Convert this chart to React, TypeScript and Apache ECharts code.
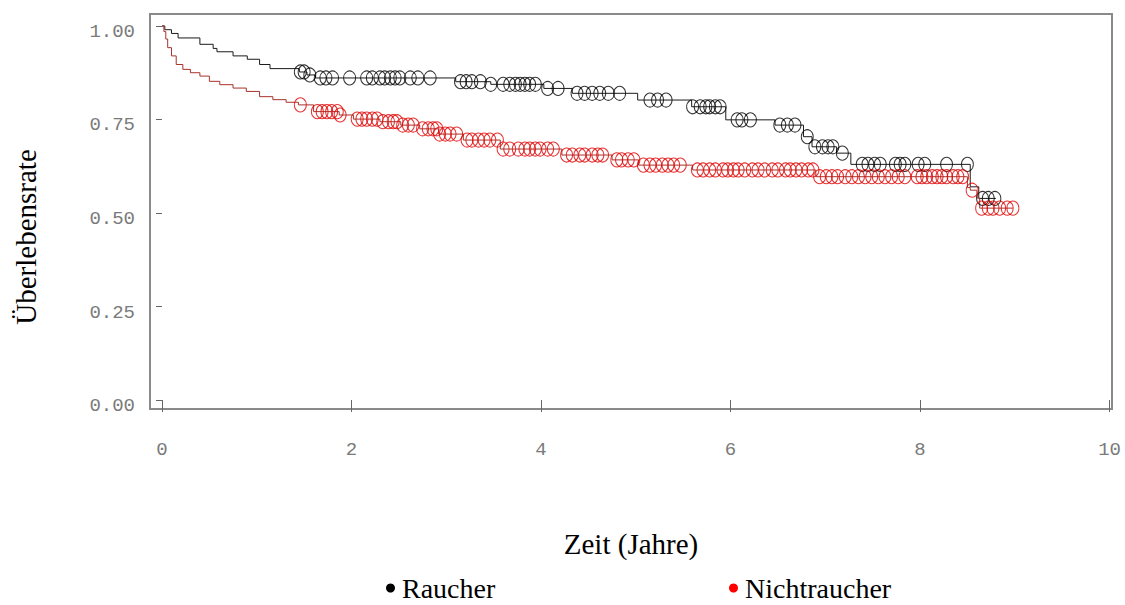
import React, { useEffect, useRef } from "react";
import * as echarts from "echarts";

// Kaplan-Meier step points [time (years), survival after event]
const raucherSteps: [number, number][] = [
  [0, 1.0], [0.03, 0.99], [0.1, 0.98], [0.17, 0.968], [0.4, 0.951], [0.54, 0.94],
  [0.58, 0.931], [0.75, 0.92], [0.9, 0.911], [1.03, 0.897], [1.14, 0.886],
  [1.45, 0.877], [1.53, 0.869], [1.62, 0.861], [3.1, 0.851], [3.47, 0.844],
  [4.03, 0.833], [4.33, 0.82], [5.02, 0.802], [5.59, 0.784], [5.95, 0.749],
  [6.47, 0.735], [6.77, 0.704], [6.86, 0.677], [7.12, 0.66], [7.27, 0.63],
  [8.53, 0.57], [8.62, 0.539], [8.8, 0.539],
];

const nichtraucherSteps: [number, number][] = [
  [0, 1.0], [0.02, 0.985], [0.04, 0.965], [0.06, 0.942], [0.1, 0.92], [0.15, 0.897],
  [0.22, 0.884], [0.3, 0.875], [0.4, 0.866], [0.5, 0.852], [0.61, 0.843],
  [0.75, 0.834], [0.89, 0.825], [1.03, 0.811], [1.17, 0.803], [1.31, 0.796],
  [1.44, 0.789], [1.6, 0.771], [1.87, 0.762], [2.02, 0.751], [2.3, 0.744],
  [2.52, 0.735], [2.72, 0.725], [2.92, 0.711], [3.18, 0.695], [3.57, 0.671],
  [4.22, 0.655], [4.75, 0.642], [5.03, 0.628], [5.6, 0.615], [6.9, 0.597],
  [8.5, 0.568], [8.53, 0.561], [8.6, 0.54], [8.63, 0.513], [8.98, 0.513],
];

// Censored observation times (years)
const raucherCensored: number[] = [
  1.46, 1.5, 1.56, 1.67, 1.73, 1.8, 1.98, 2.16, 2.22, 2.3, 2.35, 2.41, 2.46, 2.51,
  2.62, 2.7, 2.83, 3.15, 3.21, 3.27, 3.36, 3.47, 3.6, 3.67, 3.73, 3.78, 3.83, 3.88,
  3.94, 4.07, 4.18, 4.38, 4.46, 4.54, 4.62, 4.71, 4.83, 5.15, 5.23, 5.32, 5.6, 5.68,
  5.74, 5.78, 5.84, 5.89, 6.07, 6.12, 6.21, 6.52, 6.6, 6.68, 6.81, 6.89, 6.97, 7.03,
  7.08, 7.18, 7.39, 7.45, 7.52, 7.58, 7.74, 7.79, 7.84, 7.98, 8.05, 8.28, 8.5, 8.66,
  8.72, 8.79,
];

const nichtraucherCensored: number[] = [
  1.46, 1.64, 1.69, 1.74, 1.79, 1.85, 1.88, 2.06, 2.11, 2.16, 2.22, 2.27, 2.33, 2.39,
  2.44, 2.48, 2.54, 2.6, 2.65, 2.75, 2.81, 2.86, 2.9, 2.93, 2.99, 3.04, 3.11, 3.22,
  3.27, 3.34, 3.4, 3.46, 3.54, 3.6, 3.67, 3.76, 3.83, 3.88, 3.94, 3.99, 4.07, 4.13,
  4.27, 4.33, 4.41, 4.46, 4.54, 4.6, 4.65, 4.8, 4.85, 4.92, 4.98, 5.08, 5.15, 5.21,
  5.28, 5.34, 5.4, 5.47, 5.65, 5.71, 5.78, 5.84, 5.92, 5.97, 6.03, 6.08, 6.15, 6.23,
  6.29, 6.36, 6.44, 6.5, 6.58, 6.63, 6.69, 6.75, 6.82, 6.87, 6.94, 7.01, 7.07, 7.13,
  7.21, 7.28, 7.35, 7.42, 7.49, 7.56, 7.63, 7.7, 7.77, 7.84, 7.97, 8.02, 8.07, 8.13,
  8.18, 8.23, 8.28, 8.35, 8.4, 8.45, 8.55, 8.65, 8.72, 8.77, 8.84, 8.92, 8.98,
];

const xTicks = [0, 2, 4, 6, 8, 10];
const yTicks = [0, 0.25, 0.5, 0.75, 1.0];

const seriesNames = ["Raucher", "Nichtraucher"];

function survivalAt(steps: [number, number][], t: number): number {
  let s = steps[0][1];
  for (const [ti, si] of steps) {
    if (ti <= t + 1e-9) s = si;
    else break;
  }
  return s;
}

export default function App() {
  const ref = useRef<HTMLDivElement>(null);

  useEffect(() => {
    if (!ref.current) return;
    const chart = echarts.init(ref.current, undefined, { renderer: "svg" });
    const monoLabel = {
      fontFamily: '"Liberation Mono", monospace',
      fontSize: 19,
      color: "#7a7a7a",
    };
    const serif = '"Liberation Serif", "Times New Roman", serif';
    const blackLine = "#1a1a1a";
    const redLine = "#a8322a";
    const blackMark = "#000000";
    const redMark = "#e00000";
    const legendText = {
      fontFamily: serif,
      fontSize: 28,
      color: "#000",
      padding: [0, 0, 0, 2],
    };

    chart.setOption({
      animation: false,
      backgroundColor: "#ffffff",
      grid: {
        left: 150,
        top: 14,
        right: 13,
        bottom: 196,
        show: true,
        borderColor: "#8a8a8a",
        borderWidth: 2,
        backgroundColor: "transparent",
      },
      xAxis: {
        type: "value",
        min: -0.1266,
        max: 10.026,
        axisLine: { show: false },
        splitLine: { show: false },
        axisTick: {
          show: true,
          length: 12,
          customValues: xTicks,
          lineStyle: { color: "#666666", width: 1 },
        },
        axisLabel: {
          customValues: xTicks,
          margin: 31,
          ...monoLabel,
          formatter: (v: number) => String(v),
        },
      },
      yAxis: {
        type: "value",
        min: -0.024,
        max: 1.032,
        axisLine: { show: false },
        splitLine: { show: false },
        axisTick: {
          show: true,
          length: 6,
          customValues: yTicks,
          lineStyle: { color: "#666666", width: 1 },
        },
        axisLabel: {
          customValues: yTicks,
          margin: 15,
          verticalAlign: "top",
          lineHeight: 12,
          ...monoLabel,
          formatter: (v: number) => v.toFixed(2),
        },
      },
      legend: [
        {
          left: 381,
          top: 569,
          icon: "circle",
          itemWidth: 9,
          itemHeight: 9,
          data: [{ name: seriesNames[0], itemStyle: { color: "#000000" } }],
          textStyle: legendText,
        },
        {
          left: 724,
          top: 569,
          icon: "circle",
          itemWidth: 9,
          itemHeight: 9,
          data: [{ name: seriesNames[1], itemStyle: { color: "#ff0000" } }],
          textStyle: legendText,
        },
      ],
      graphic: [
        {
          type: "text",
          x: 631,
          y: 544,
          style: {
            text: "Zeit (Jahre)",
            fontFamily: serif,
            fontSize: 29,
            fill: "#000",
            textAlign: "center",
            textVerticalAlign: "middle",
          },
        },
        {
          type: "text",
          x: 26,
          y: 237,
          rotation: Math.PI / 2,
          style: {
            text: "Überlebensrate",
            fontFamily: serif,
            fontSize: 29,
            fill: "#000",
            textAlign: "center",
            textVerticalAlign: "middle",
          },
        },
      ],
      series: [
        {
          name: seriesNames[0],
          type: "line",
          step: "end",
          data: raucherSteps,
          showSymbol: false,
          color: blackLine,
          lineStyle: { color: blackLine, width: 1 },
          silent: true,
          z: 2,
        },
        {
          name: seriesNames[1],
          type: "line",
          step: "end",
          data: nichtraucherSteps,
          showSymbol: false,
          color: redLine,
          lineStyle: { color: redLine, width: 1 },
          silent: true,
          z: 2,
        },
        {
          name: seriesNames[0],
          type: "scatter",
          data: raucherCensored.map((t) => [t, survivalAt(raucherSteps, t)]),
          symbol: "circle",
          symbolSize: [12, 14],
          itemStyle: { color: "transparent", borderColor: blackMark, borderWidth: 1 },
          silent: true,
          z: 3,
        },
        {
          name: seriesNames[1],
          type: "scatter",
          data: nichtraucherCensored.map((t) => [t, survivalAt(nichtraucherSteps, t)]),
          symbol: "circle",
          symbolSize: [12, 14],
          itemStyle: { color: "transparent", borderColor: redMark, borderWidth: 1 },
          silent: true,
          z: 3,
        },
      ],
    });
    return () => chart.dispose();
  }, []);

  return (
    <div
      ref={ref}
      style={{ position: "absolute", left: 0, top: 0, width: 1125, height: 605, background: "#fff" }}
    />
  );
}
